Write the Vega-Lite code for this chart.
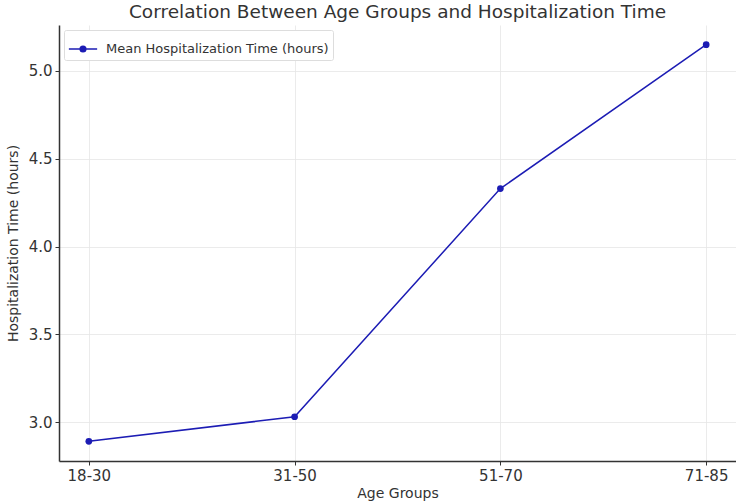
{
  "$schema": "https://vega.github.io/schema/vega-lite/v6.json",
  "width": 677,
  "height": 436,
  "autosize": "none",
  "padding": {"left": 59, "top": 25, "right": 0, "bottom": 40},
  "background": "white",
  "config": {
    "font": "DejaVu Sans",
    "view": {"stroke": null},
    "axis": {
      "labelFont": "DejaVu Sans",
      "titleFont": "DejaVu Sans",
      "labelFontSize": 15,
      "titleFontSize": 14,
      "labelColor": "#333333",
      "titleColor": "#333333",
      "titleFontWeight": "normal",
      "domainColor": "#333333",
      "domainWidth": 1.5,
      "tickColor": "#333333",
      "tickSize": 4,
      "gridColor": "#e6e6e6",
      "gridWidth": 0.8
    }
  },
  "title": {
    "text": "Correlation Between Age Groups and Hospitalization Time",
    "font": "DejaVu Sans",
    "fontSize": 18.5,
    "fontWeight": "normal",
    "color": "#333333",
    "anchor": "middle",
    "offset": 4
  },
  "data": {
    "values": [
      {"age": "18-30", "hours": 2.89, "series": "Mean Hospitalization Time (hours)"},
      {"age": "31-50", "hours": 3.03, "series": "Mean Hospitalization Time (hours)"},
      {"age": "51-70", "hours": 4.33, "series": "Mean Hospitalization Time (hours)"},
      {"age": "71-85", "hours": 5.15, "series": "Mean Hospitalization Time (hours)"}
    ]
  },
  "mark": {"type": "line", "point": {"filled": true, "size": 45, "color": "#0000cc"}, "strokeWidth": 1.5},
  "encoding": {
    "x": {
      "field": "age",
      "type": "ordinal",
      "title": "Age Groups",
      "scale": {"type": "point", "padding": 0.145},
      "axis": {"labelAngle": 0, "grid": true, "labelPadding": 3, "titlePadding": 3}
    },
    "y": {
      "field": "hours",
      "type": "quantitative",
      "title": "Hospitalization Time (hours)",
      "scale": {"domain": [2.778, 5.262], "nice": false, "zero": false},
      "axis": {"values": [3.0, 3.5, 4.0, 4.5, 5.0], "format": ".1f", "grid": true, "titlePadding": 8, "labelPadding": 3}
    },
    "color": {
      "field": "series",
      "type": "nominal",
      "scale": {"range": ["#1c1cb4"]},
      "legend": {
        "title": null,
        "orient": "top-left",
        "offset": 5,
        "labelFont": "DejaVu Sans",
        "labelFontSize": 13,
        "labelLimit": 0,
        "labelOffset": 8,
        "labelColor": "#333333",
        "symbolType": "M-1,0H1M-0.2,0A0.2,0.2 0 1,0 0.2,0A0.2,0.2 0 1,0 -0.2,0",
        "symbolSize": 800,
        "symbolStrokeWidth": 1.5,
        "symbolFillColor": "#0000cc",
        "symbolStrokeColor": "#1c1cb4",
        "fillColor": "white",
        "strokeColor": "#dddddd",
        "padding": 4,
        "cornerRadius": 2
      }
    }
  }
}
